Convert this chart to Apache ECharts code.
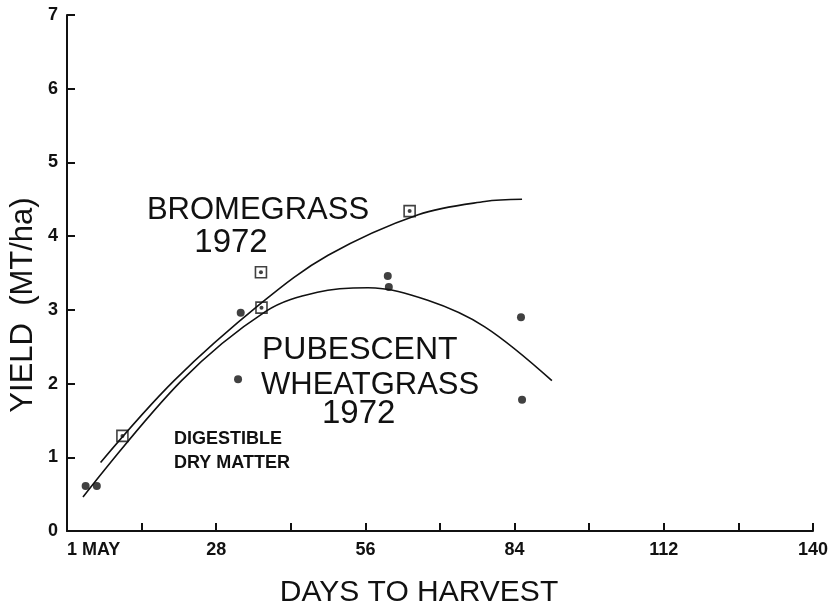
<!DOCTYPE html>
<html>
<head>
<meta charset="utf-8">
<script src="https://cdn.jsdelivr.net/npm/echarts@6/dist/echarts.min.js"></script>
<style>
  html, body { margin: 0; padding: 0; background: #fff; }
  #chart { width: 831px; height: 609px; }
</style>
</head>
<body>
<div id="chart"></div>
<script>
// values (days after 1 May, yield MT/ha)
const broDays = [10.4, 36.4, 36.5, 64.3];
const broYield = [1.29, 3.51, 3.03, 4.34];

const wheatDays = [3.5, 5.6, 32.6, 32.1, 60.2, 60.4, 85.2, 85.4];
const wheatYield = [0.61, 0.61, 2.96, 2.06, 3.46, 3.31, 2.90, 1.78];

// fitted curves as drawn
const broCurveDays = [6.3, 20.1, 36.6, 49, 65.9, 78.4, 85.4];
const broCurveYield = [0.93, 2.04, 3.10, 3.74, 4.29, 4.47, 4.50];

const wheatCurveDays = [3, 21.5, 37.3, 47, 56.5, 67.7, 78.4, 91];
const wheatCurveYield = [0.46, 2.04, 2.98, 3.24, 3.30, 3.13, 2.77, 2.04];

const pairs = (xs, ys) => xs.map((x, i) => [x, ys[i]]);

const labelFont = { color: "#111", fontSize: 18, fontWeight: "bold", fontFamily: "Liberation Sans" };
const big = "30px 'Liberation Sans'";

let myChart = echarts.init(document.getElementById("chart"));
let option = {
  backgroundColor: "#fff",
  animation: false,
  grid: { left: 67, right: 13, top: 15, bottom: 78 },
  xAxis: {
    type: "value",
    min: 0,
    max: 140,
    interval: 14,
    axisLine: { lineStyle: { color: "#111", width: 2 } },
    axisTick: { inside: true, length: 8, lineStyle: { color: "#111", width: 2 } },
    axisLabel: {
      ...labelFont,
      margin: 10,
      alignMinLabel: "left",
      formatter: (v) => (v % 28 !== 0 ? "" : v === 0 ? "1 MAY" : String(v))
    },
    splitLine: { show: false }
  },
  yAxis: {
    type: "value",
    min: 0,
    max: 7,
    interval: 1,
    axisLine: { show: true, lineStyle: { color: "#111", width: 2 } },
    axisTick: { show: true, inside: true, length: 8, lineStyle: { color: "#111", width: 2 } },
    axisLabel: { ...labelFont, margin: 9 },
    splitLine: { show: false }
  },
  graphic: [
    { type: "text", x: 23, y: 305, rotation: Math.PI / 2,
      style: { text: "YIELD  (MT/ha)", font: "31px 'Liberation Sans'", fill: "#111", textAlign: "center", textVerticalAlign: "middle" } },
    { type: "text", x: 419, y: 593,
      style: { text: "DAYS TO HARVEST", font: big, fill: "#111", textAlign: "center", textVerticalAlign: "middle" } },
    { type: "text", x: 258, y: 210,
      style: { text: "BROMEGRASS", font: "31px 'Liberation Sans'", fill: "#111", textAlign: "center", textVerticalAlign: "middle" } },
    { type: "text", x: 231, y: 243,
      style: { text: "1972", font: "33px 'Liberation Sans'", fill: "#111", textAlign: "center", textVerticalAlign: "middle" } },
    { type: "text", x: 262, y: 350,
      style: { text: "PUBESCENT", font: "32px 'Liberation Sans'", fill: "#111", textAlign: "left", textVerticalAlign: "middle" } },
    { type: "text", x: 261, y: 385,
      style: { text: "WHEATGRASS", font: "31px 'Liberation Sans'", fill: "#111", textAlign: "left", textVerticalAlign: "middle" } },
    { type: "text", x: 322, y: 414,
      style: { text: "1972", font: "33px 'Liberation Sans'", fill: "#111", textAlign: "left", textVerticalAlign: "middle" } },
    { type: "text", x: 174, y: 439,
      style: { text: "DIGESTIBLE", font: "bold 18px 'Liberation Sans'", fill: "#111", textAlign: "left", textVerticalAlign: "middle" } },
    { type: "text", x: 174, y: 463,
      style: { text: "DRY MATTER", font: "bold 18px 'Liberation Sans'", fill: "#111", textAlign: "left", textVerticalAlign: "middle" } }
  ],
  series: [
    {
      name: "Bromegrass fit",
      type: "line",
      smooth: 0.35,
      showSymbol: false,
      lineStyle: { color: "#111", width: 1.6 },
      data: pairs(broCurveDays, broCurveYield)
    },
    {
      name: "Wheatgrass fit",
      type: "line",
      smooth: 0.35,
      showSymbol: false,
      lineStyle: { color: "#111", width: 1.6 },
      data: pairs(wheatCurveDays, wheatCurveYield)
    },
    {
      name: "Bromegrass",
      type: "scatter",
      symbol: "rect",
      symbolSize: 11,
      itemStyle: { color: "#fff", borderColor: "#111", borderWidth: 1.6 },
      data: pairs(broDays, broYield)
    },
    {
      name: "Bromegrass centre",
      type: "scatter",
      symbolSize: 4,
      itemStyle: { color: "#111" },
      data: pairs(broDays, broYield)
    },
    {
      name: "Pubescent wheatgrass",
      type: "scatter",
      symbolSize: 8,
      itemStyle: { color: "#111" },
      data: pairs(wheatDays, wheatYield)
    }
  ]
};
myChart.setOption(option);
</script>
</body>
</html>
